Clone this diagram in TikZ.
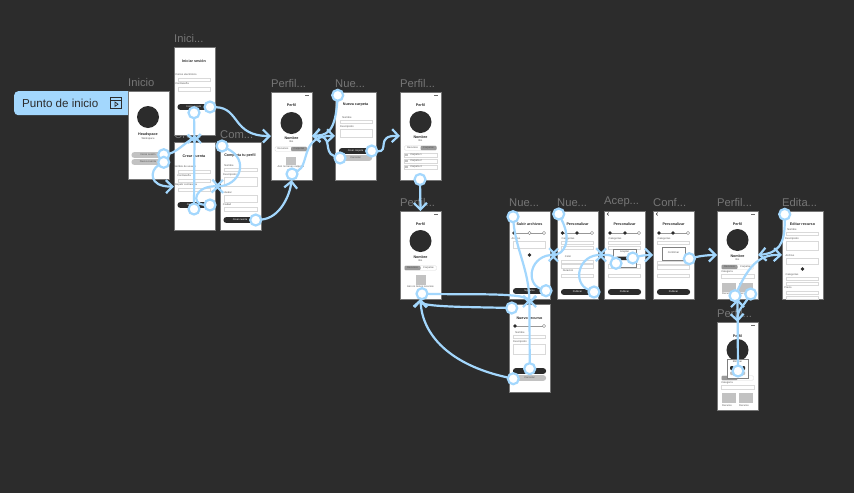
\documentclass[tikz,border=0pt]{standalone}
\usepackage{fontspec}
\setmainfont{Liberation Sans}
\usepackage{xcolor}
\usetikzlibrary{arrows.meta, positioning, calc}
\definecolor{flowblue}{HTML}{A3D7FD}
\definecolor{canvasgray}{HTML}{2C2C2C}
\definecolor{inkdark}{HTML}{2C2C2C}
\definecolor{labelgray}{HTML}{767676}
\definecolor{btngray}{HTML}{C2C2C2}
\definecolor{tabgray}{HTML}{9A9A9A}
\definecolor{rulegray}{HTML}{D9D9D9}
\newcommand{\cutoff}{...}
\tikzset{
  phone/.style={draw=labelgray, line width=0.6pt, fill=white, anchor=north west,
    minimum width=41pt, minimum height=88pt, inner sep=0pt, outer sep=0pt},
  framelabel/.style={anchor=south west, text=labelgray, font=\fontsize{11.2}{12}\selectfont,
    inner sep=0pt, yshift=4pt},
  handle/.style={circle, draw=flowblue, fill=white, line width=2.2pt,
    minimum size=11pt, inner sep=0pt, outer sep=0.4pt},
  link/.style={draw=flowblue, line width=2.2pt,
    -{Straight Barb[length=6.5pt, width=13pt, line width=2.2pt]}},
  tinytext/.style={inner sep=0pt, text=inkdark!80, font=\fontsize{2.6}{3}\selectfont},
  titletext/.style={inner sep=0pt, text=inkdark, font=\bfseries\fontsize{3.7}{4}\selectfont},
  whitetext/.style={inner sep=0pt, text=white, font=\fontsize{2.5}{3}\selectfont},
  field/.style={draw=rulegray, line width=0.35pt, fill=white},
}
\begin{document}
\begin{tikzpicture}[x=1pt, y=-1pt]
  \fill[canvasgray] (0,0) rectangle (854,493);
  \useasboundingbox (0,0) rectangle (854,493);

  %% Start tab
  \node[fill=flowblue, rounded corners=4pt, minimum width=122pt, minimum height=24pt,
    inner sep=0pt, anchor=north west] (starttab) at (14,91) {};
  \node[anchor=west, inner sep=0pt, text=inkdark, font=\fontsize{11.6}{12}\selectfont]
    (startlabel) at (22,103) {Punto de inicio};
  \node[draw=inkdark, line width=0.9pt, minimum size=11pt, inner sep=0pt] (starticon) at (116,103) {};
  \draw[inkdark, line width=0.9pt] (110.5,100) -- (121.5,100);
  \draw[inkdark, line width=0.7pt] (115,102) -- (118,104.2) -- (115,106.4) -- cycle;

  %% Frames: name/x/y/label
  \foreach \id/\x/\y/\t in {inicio/128/91/Inicio, crear/174/142.5/Cre\cutoff, sesion/174/47/Inici\cutoff,
      completa/220/142.5/Com\cutoff, perfilA/271/92/Perfil\cutoff, carpeta/335/92/Nue\cutoff,
      perfilB/400/92/Perfil\cutoff, perfilC/400/211/Perfil\cutoff, archivos/509/211/Nue\cutoff,
      recurso/509/304/{}, personalizar/557/211/Nue\cutoff, aceptar/604/211/Acep\cutoff,
      confirmar/653/211/Conf\cutoff, perfilD/717/211/Perfil\cutoff, editar/782/211/Edita\cutoff,
      perfilE/717/322/Perfil\cutoff} {
    \node[framelabel] (\id label) at (\x,\y) {\t};
    \node[phone] (\id) at (\x,\y) {};
  }

  %% Avatars
  \foreach \x/\y [count=\i] in {148/117, 291.5/123, 420.5/122, 420.5/241, 737.5/240, 737.5/350} {
    \node[circle, fill=inkdark, minimum size=22pt, inner sep=0pt] (avatar\i) at (\x,\y) {};
  }

  %% Input fields: left/top/right/bottom
  \foreach \a/\b/\c/\d in {178/78/210/81.5, 178/87/210/91, 178/170/210/173.5, 178/179/210/182.5,
      178/188/210/191.5, 224/168/257/171.5, 224/177/257/186, 224/195/257/202, 224/207/257/211,
      340/120/372/123, 340/129/372/137, 513/241/545/248, 513/335/545/338, 513/344/545/354,
      561/241/593/244.5, 561/246/593/249.5, 561/260/593/263.5, 561/264.5/593/268, 561/274/593/277.5,
      608/241/640/244.5, 608/246/640/249.5, 608/264.5/640/268, 608/274/640/277.5,
      657/241/689/244.5, 657/261/689/264.5, 657/265.5/689/269, 657/274/689/277.5,
      786/232/818/235.5, 786/241/818/250, 786/258/818/264, 786/277/818/280, 786/282/818/285,
      786/291/818/294, 786/296/818/299, 721/274/754/278, 721/385/754/389,
      404/153/437/157.5, 404/159/437/163.5, 404/165/437/169.5} {
    \draw[field] (\a,\b) rectangle (\c,\d);
  }

  %% Dark and gray buttons
  \foreach \x/\y/\k in {194/107/inkdark, 194/205/inkdark, 240/220/inkdark, 355.5/151/inkdark,
      355.5/158/btngray, 529.5/291/inkdark, 529.5/371/inkdark, 529.5/378/btngray,
      577.5/292/inkdark, 624.5/292/inkdark, 673.5/292/inkdark, 148/155/btngray, 148/162/btngray} {
    \fill[\k, rounded corners=2.5pt] (\x-16.5,\y-2.8) rectangle (\x+16.5,\y+2.8);
  }
  \foreach \x/\y in {291/149, 420.5/148, 420.5/268, 737.5/267, 737.5/378} {
    \draw[rulegray, line width=0.35pt, rounded corners=1pt] (\x-16,\y-2.2) rectangle (\x+16,\y+2.2);
  }
  \foreach \x/\y in {299/149, 428.5/148, 412.5/268, 729.5/267, 729.5/378} {
    \fill[tabgray, rounded corners=1pt] (\x-8,\y-2.2) rectangle (\x+8,\y+2.2);
  }

  %% Thumbnails and dots
  \foreach \x/\y/\w/\h in {291/161/10/8, 420.5/280/10/10, 729/287/14/9, 746/287/14/9, 729/398/14/10,
      746/398/14/10, 406.5/155/3/2.5, 406.5/161/3/2.5, 406.5/167/3/2.5} {
    \fill[btngray] (\x-\w/2,\y-\h/2) rectangle (\x+\w/2,\y+\h/2);
  }
  \foreach \a/\c/\y in {514/544/233, 514/544/326, 562/592/233, 610/639/233, 659/688/233} {
    \draw[rulegray!70!black, line width=0.3pt] (\a,\y) -- (\c,\y);
  }
  \foreach \x/\y in {529.5/255, 802.5/269, 514/233, 515/326, 562.5/233, 577/233, 610/233, 625/233,
      659/233, 673/233} {
    \fill[inkdark] (\x,\y) circle (1.9pt);
  }
  \foreach \x/\y in {529.5/233, 544/233, 544/326, 592/233, 639/233, 688/233} {
    \draw[gray, line width=0.4pt, fill=white] (\x,\y) circle (1.6pt);
  }

  %% Top marks and back arrows
  \foreach \x/\y in {307/95, 436/95, 436/214, 753/214, 753/325} {
    \draw[inkdark!70, line width=0.5pt] (\x-2,\y) -- (\x+2,\y);
  }
  \foreach \x in {608, 657} {
    \draw[inkdark, line width=0.6pt] (\x+0.7,212.5) -- (\x-0.7,214) -- (\x+0.7,215.5);
  }

  %% Screen titles
  \foreach \x/\y/\t [count=\i] in {194/61/Iniciar sesión, 148/135/Headspace, 194/156/Crear cuenta,
      240/156/Completa tu perfil, 291.5/105/Perfil, 291.5/138/Nombre, 355.5/105/Nueva carpeta,
      420.5/105/Perfil, 420.5/137/Nombre, 420.5/224/Perfil, 420.5/257/Nombre, 529.5/224/Subir archivos,
      529.5/318/Nuevo recurso, 577.5/224/Personalizar, 624.5/224/Personalizar, 673.5/224/Personalizar,
      737.5/224/Perfil, 737.5/256/Nombre, 802.5/224/Editar recurso, 737.5/336/Perfil} {
    \node[titletext] (title\i) at (\x,\y) {\t};
  }

  %% Small captions
  \foreach \x/\y/\t [count=\i] in {186/75/Correo electrónico, 182/84/Contraseña, 148/139/Workspace,
      185/167/Nombre de usuario, 184/176/Contraseña, 186/185/Repetir contraseña, 229/166/Nombre,
      230/175/Descripción, 228/193/Avatar, 227/205/Ciudad, 291.5/142/Bio, 420.5/141/Bio,
      420.5/261/Bio, 737.5/260/Bio, 347/118/Nombre, 347/127/Descripción, 516/239/Archivo,
      520/333/Nombre, 520/342/Descripción, 568/239/Categorías, 568/257/Color, 568/271/Duración,
      615/239/Categorías, 664/239/Categorías, 792/230/Nombre, 792/239/Descripción, 790/256/Archivo,
      792/275/Categorías, 788/288/Precio, 283/149/Recursos, 299/149/Carpetas, 412.5/148/Recursos,
      428.5/148/Carpetas, 412.5/268/Recursos, 428.5/268/Carpetas, 729.5/267/Recursos, 745.5/267/Carpetas,
      291/167/Aún no tienes carpetas, 420.5/287/Aún no tienes recursos, 416/155/Carpeta 1, 416/161/Carpeta 2,
      416/167/Carpeta 3, 727/272/Categoría, 727/383/Categoría, 727/294/Recurso, 744/294/Recurso,
      727/406/Recurso, 744/406/Recurso} {
    \node[tinytext] (caption\i) at (\x,\y) {\t};
  }

  %% Button texts
  \foreach \x/\y/\t [count=\i] in {194/107/Iniciar sesión, 194/205/Crear cuenta, 240/220/Crear cuenta,
      355.5/151/Crear carpeta, 529.5/291/Siguiente, 529.5/371/Siguiente, 577.5/292/Publicar,
      624.5/292/Publicar, 673.5/292/Publicar} {
    \node[whitetext] (btntext\i) at (\x,\y) {\t};
  }
  \node[tinytext] (cancelA) at (355.5,158) {Cancelar};
  \node[tinytext] (cancelB) at (529.5,378) {Cancelar};
  \node[tinytext] (loginA) at (148,155) {Iniciar sesión};
  \node[tinytext] (loginB) at (148,162) {Nueva cuenta};

  %% Dialogs
  \foreach \a/\b/\c/\d in {613/249/636/267, 662/247/685/260, 727/359/748/378} {
    \draw[gray, line width=0.4pt, fill=white] (\a,\b) rectangle (\c,\d);
  }
  \node[tinytext] (dialogA) at (624.5,252) {Aceptar};
  \node[tinytext] (dialogB) at (673.5,253) {Confirmar};
  \node[tinytext] (dialogC) at (737.5,362) {Eliminar};
  \fill[inkdark, rounded corners=1pt] (616,256.5) rectangle (633,260);
  \fill[inkdark, rounded corners=1pt] (730,366) rectangle (745,370);
  \fill[btngray, rounded corners=1pt] (730,371.5) rectangle (745,375);

  %% Handles
  \foreach \id/\x/\y in {hA/163.7/154.7, hB/163.7/162.3, hC/194/112.7, hD/194/209, hE/210/107,
      hF/210/205, hG/222/146, hH/255.7/220, hI/292/174, hJ/337.7/95.3, hK/340/158, hL/371.7/151,
      hM/420/179.5, hN/422/293.7, hO/513/216.7, hP/529.7/368.7, hQ/511.7/308, hR/513.3/378.7,
      hS/546/290.7, hT/558.7/214, hU/594/292, hV/616/263.3, hW/632.7/258, hX/689.3/258.7,
      hY/784.7/214.3, hZ/735/295.7, hAA/750.7/294, hAB/738/371} {
    \node[handle] (\id) at (\x,\y) {};
  }

  %% Connectors
  \draw[link] (hA) .. controls (178,152) and (194,134) .. (crear.north);
  \draw[link] (hB) .. controls (150,170) and (148,187) .. (crear.west);
  \draw[link] (hC) -- (crear.north);
  \draw[link] (hD) -- (sesion.south);
  \draw[link] (hE) .. controls (240,108) and (232,136) .. (perfilA.west);
  \draw[link] (hF) .. controls (190,204) and (195,185) .. (completa.west);
  \draw[link] (hG) .. controls (250,160) and (240,186) .. (crear.east);
  \draw[link] (hH) .. controls (280,218) and (290,195) .. (perfilA.south);
  \draw[link] (hI) .. controls (310,165) and (300,135) .. (carpeta.west);
  \draw[link] (hJ) .. controls (335,135) and (325,135) .. (perfilA.east);
  \draw[link] (hK) .. controls (322,152) and (335,135) .. (perfilA.east);
  \draw[link] (hL) .. controls (390,152) and (375,135) .. (perfilB.west);
  \draw[link] (hM) -- (perfilC.north);
  \draw[link] (hN) .. controls (470,295) and (530,292) .. (recurso.north);
  \draw[link] (hO) .. controls (516,250) and (529,270) .. (recurso.north);
  \draw[link] (hP) -- (archivos.south);
  \draw[link] (hQ) .. controls (470,307) and (420,307) .. (perfilC.south);
  \draw[link] (hR) .. controls (450,365) and (422,335) .. (perfilC.south);
  \draw[link] (hS) .. controls (525,283) and (530,254) .. (personalizar.west);
  \draw[link] (hT) .. controls (572,240) and (565,255) .. (archivos.east);
  \draw[link] (hU) .. controls (572,283) and (578,254) .. (aceptar.west);
  \draw[link] (hV) .. controls (612,254) and (605,255) .. (personalizar.east);
  \draw[link] (hW) .. controls (640,256) and (645,255) .. (confirmar.west);
  \draw[link] (hX) .. controls (700,256) and (708,255) .. (perfilD.west);
  \draw[link] (hY) .. controls (785,245) and (778,253) .. (perfilD.east);
  \draw[link] (hZ) .. controls (748,268) and (758,254) .. (editar.west);
  \draw[link] (hAA) .. controls (744,305) and (737,310) .. (perfilE.north);
  \draw[link] (hAB) -- (perfilD.south);
\end{tikzpicture}
\end{document}
